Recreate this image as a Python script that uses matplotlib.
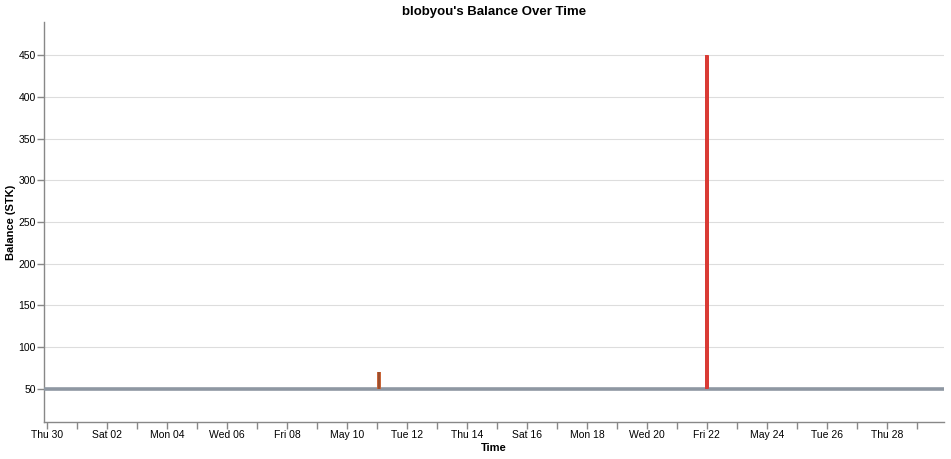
import numpy as np
import pandas as pd
import matplotlib
matplotlib.use("Agg")
import matplotlib.pyplot as plt
import matplotlib.dates as mdates

plt.rcParams["font.family"] = ["Liberation Sans", "DejaVu Sans"]

# balance history (STK)
base_times = pd.to_datetime(["2026-04-29 21:40", "2026-05-29 21:40"])
base_balance = [50, 50]

small_times = pd.to_datetime(["2026-05-11 01:40", "2026-05-11 01:41", "2026-05-11 01:42"])
small_balance = [50, 70, 50]

big_times = pd.to_datetime(["2026-05-22 00:00", "2026-05-22 00:01", "2026-05-22 00:02"])
big_balance = [50, 450, 50]

tick_dates = pd.date_range("2026-04-30", "2026-05-28", freq="2D")
tick_labels = ["Thu 30", "Sat 02", "Mon 04", "Wed 06", "Fri 08", "May 10", "Tue 12",
               "Thu 14", "Sat 16", "Mon 18", "Wed 20", "Fri 22", "May 24", "Tue 26", "Thu 28"]
y_ticks = [50, 100, 150, 200, 250, 300, 350, 400, 450]

fig = plt.figure(figsize=(9.51, 4.59), dpi=100)
ax = fig.add_axes([44 / 951, 1 - 422 / 459, 900 / 951, 400 / 459])

line_kw = dict(solid_capstyle="butt", solid_joinstyle="miter")
ax.plot(base_times, base_balance, color="#8e97a2", lw=2.6, zorder=3, **line_kw)
ax.plot(small_times, small_balance, color="#c8663a", lw=2.6, zorder=4, **line_kw)
ax.plot(small_times, small_balance, color="#9c4e2c", lw=1.4, zorder=5, **line_kw)
ax.plot(big_times, big_balance, color="#d93b35", lw=2.4, zorder=4, **line_kw)

ax.set_xlim(base_times[0], base_times[-1])
ax.set_ylim(10, 490)

ax.set_xticks(tick_dates)
ax.set_xticklabels(tick_labels)
ax.xaxis.set_minor_locator(mdates.DayLocator())
ax.set_yticks(y_ticks)

ax.grid(axis="y", color="#dddddd", lw=0.8, zorder=0)
ax.set_axisbelow(True)
for side in ["top", "right"]:
    ax.spines[side].set_visible(False)
for side in ["left", "bottom"]:
    ax.spines[side].set_color("#888888")
    ax.spines[side].set_linewidth(1)

ax.tick_params(axis="both", which="both", color="#888888", length=5, width=1,
               labelsize=7.5, labelcolor="#000000", pad=1)

ax.set_xlabel("Time", fontsize=8, fontweight="bold", labelpad=2)
ax.set_ylabel("Balance (STK)", fontsize=8, fontweight="bold", labelpad=2)
ax.set_title("blobyou's Balance Over Time", fontsize=9.5, fontweight="bold", pad=5)

fig.savefig("out.png", dpi=100)
